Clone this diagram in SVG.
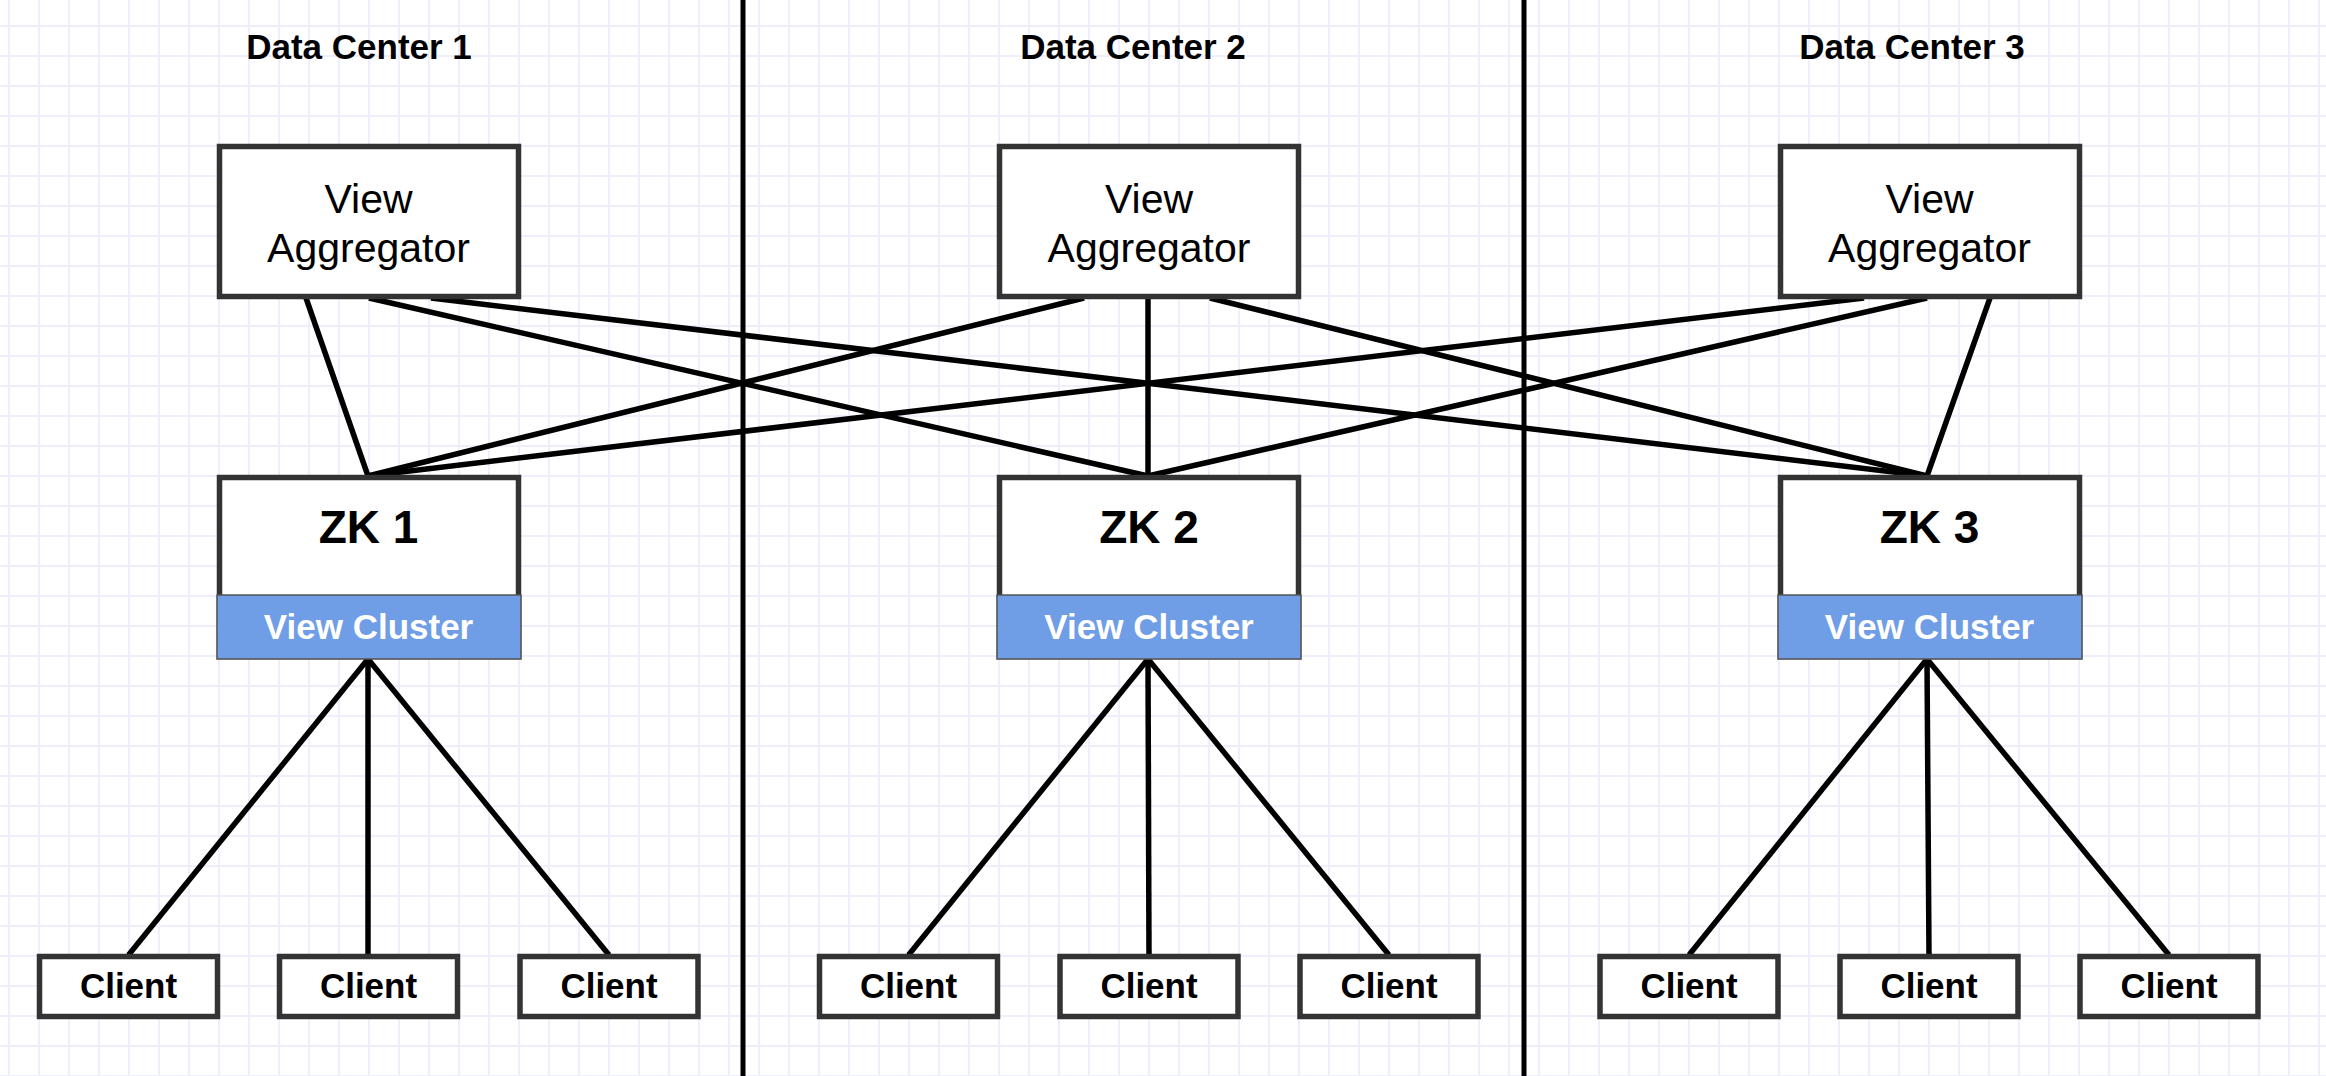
<svg xmlns="http://www.w3.org/2000/svg" width="2326" height="1076" viewBox="0 0 2326 1076">
<style>
.title{font-family:"Liberation Sans",Arial,sans-serif;font-weight:bold;font-size:35px;fill:#000;text-anchor:middle}
.va{font-family:"Liberation Sans",Arial,sans-serif;font-size:41px;fill:#000;text-anchor:middle}
.zk{font-family:"Liberation Sans",Arial,sans-serif;font-weight:bold;font-size:46px;fill:#000;text-anchor:middle}
.vc{font-family:"Liberation Sans",Arial,sans-serif;font-weight:bold;font-size:35px;fill:#fff;text-anchor:middle}
.cl{font-family:"Liberation Sans",Arial,sans-serif;font-weight:bold;font-size:35px;fill:#000;text-anchor:middle}
.box{fill:#fff;stroke:#333;stroke-width:5.5}
.band{fill:#6f9de6;stroke:#555;stroke-width:1.5}
.sep{stroke:#000;stroke-width:5}
.conn line{stroke:#000;stroke-width:5.5;stroke-linecap:butt}
</style>
<defs>
<pattern id="grid" patternUnits="userSpaceOnUse" x="8" y="25" width="30" height="30">
<path d="M0 1 H30 M1 0 V30" stroke="#eeeefc" stroke-width="2" fill="none"/>
</pattern>
</defs>
<rect x="0" y="0" width="2326" height="1076" fill="#fff"/>
<rect x="0" y="0" width="2326" height="1076" fill="url(#grid)"/>

<g id="separators">
<line class="sep" x1="743" y1="0" x2="743" y2="1076"/>
<line class="sep" x1="1524" y1="0" x2="1524" y2="1076"/>
</g>

<g id="titles">
<text class="title" x="359" y="59">Data Center 1</text>
<text class="title" x="1133" y="59">Data Center 2</text>
<text class="title" x="1912" y="59">Data Center 3</text>
</g>

<g id="connectors" class="conn">
<line x1="306" y1="298" x2="368" y2="476"/>
<line x1="369" y1="298" x2="1148" y2="476"/>
<line x1="431" y1="298" x2="1927" y2="476"/>
<line x1="1084" y1="298" x2="368" y2="476"/>
<line x1="1148" y1="298" x2="1148" y2="476"/>
<line x1="1210" y1="298" x2="1927" y2="476"/>
<line x1="1864" y1="298" x2="368" y2="476"/>
<line x1="1927" y1="298" x2="1148" y2="476"/>
<line x1="1990" y1="298" x2="1927" y2="476"/>
<line x1="368" y1="659" x2="128.5" y2="955"/>
<line x1="368" y1="659" x2="368" y2="955"/>
<line x1="368" y1="659" x2="609" y2="955"/>
<line x1="1148" y1="659" x2="908.5" y2="955"/>
<line x1="1148" y1="659" x2="1149" y2="955"/>
<line x1="1148" y1="659" x2="1389" y2="955"/>
<line x1="1927" y1="659" x2="1689" y2="955"/>
<line x1="1927" y1="659" x2="1929" y2="955"/>
<line x1="1927" y1="659" x2="2169" y2="955"/>
</g>

<g id="va1"><rect class="box" x="219.5" y="146.5" width="299" height="150"/><text class="va" x="368.5" y="213">View</text><text class="va" x="368.5" y="262">Aggregator</text></g>
<g id="va2"><rect class="box" x="999.5" y="146.5" width="299" height="150"/><text class="va" x="1149" y="213">View</text><text class="va" x="1149" y="262">Aggregator</text></g>
<g id="va3"><rect class="box" x="1780.5" y="146.5" width="299" height="150"/><text class="va" x="1929.5" y="213">View</text><text class="va" x="1929.5" y="262">Aggregator</text></g>

<g id="zk1"><rect class="box" x="219.5" y="477.5" width="299" height="179"/><rect class="band" x="217" y="595" width="304" height="64"/><text class="zk" x="368.5" y="543">ZK 1</text><text class="vc" x="368.5" y="639">View Cluster</text></g>
<g id="zk2"><rect class="box" x="999.5" y="477.5" width="299" height="179"/><rect class="band" x="997" y="595" width="304" height="64"/><text class="zk" x="1149" y="543">ZK 2</text><text class="vc" x="1149" y="639">View Cluster</text></g>
<g id="zk3"><rect class="box" x="1780.5" y="477.5" width="299" height="179"/><rect class="band" x="1778" y="595" width="304" height="64"/><text class="zk" x="1929.5" y="543">ZK 3</text><text class="vc" x="1929.5" y="639">View Cluster</text></g>

<g id="client1a"><rect class="box" x="39.5" y="956.5" width="178" height="60"/><text class="cl" x="128.5" y="998">Client</text></g>
<g id="client1b"><rect class="box" x="279.5" y="956.5" width="178" height="60"/><text class="cl" x="368.5" y="998">Client</text></g>
<g id="client1c"><rect class="box" x="520" y="956.5" width="178" height="60"/><text class="cl" x="609" y="998">Client</text></g>
<g id="client2a"><rect class="box" x="819.5" y="956.5" width="178" height="60"/><text class="cl" x="908.5" y="998">Client</text></g>
<g id="client2b"><rect class="box" x="1060" y="956.5" width="178" height="60"/><text class="cl" x="1149" y="998">Client</text></g>
<g id="client2c"><rect class="box" x="1300" y="956.5" width="178" height="60"/><text class="cl" x="1389" y="998">Client</text></g>
<g id="client3a"><rect class="box" x="1600" y="956.5" width="178" height="60"/><text class="cl" x="1689" y="998">Client</text></g>
<g id="client3b"><rect class="box" x="1840" y="956.5" width="178" height="60"/><text class="cl" x="1929" y="998">Client</text></g>
<g id="client3c"><rect class="box" x="2080" y="956.5" width="178" height="60"/><text class="cl" x="2169" y="998">Client</text></g>
</svg>
